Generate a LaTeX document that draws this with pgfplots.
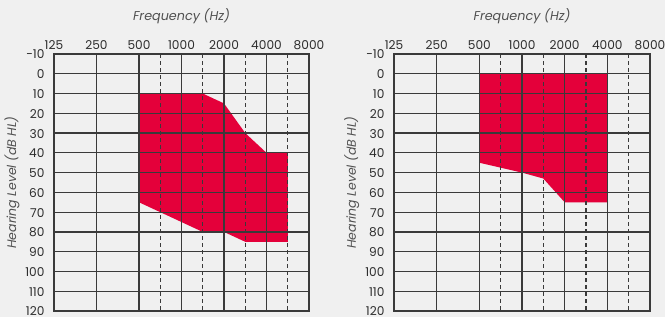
\documentclass[border=0pt]{standalone}
\usepackage{pgfplots}
\pgfplotsset{compat=1.18}
\usepackage{fontspec}
\setmainfont{Poppins}
\definecolor{bg}{RGB}{240,240,240}
\definecolor{gridc}{RGB}{58,58,58}
\definecolor{fillred}{RGB}{228,0,58}
\definecolor{txt}{RGB}{45,45,45}
\definecolor{ttl}{RGB}{80,80,80}
\pgfplotsset{
  audiogram/.style={
    scale only axis,
    width=255bp, height=257bp,
    anchor=south west,
    xmin=0, xmax=6, ymin=-10, ymax=120,
    y dir=reverse,
    axis on top,
    axis background/.style={fill=bg},
    xtick={0,1,2,3,4,5,6},
    xticklabels={125,250,500,1000,2000,4000,8000},
    xticklabel pos=upper,
    ytick={-10,0,10,20,30,40,50,60,70,80,90,100,110,120},
    yticklabels={-10,0,10,20,30,40,50,60,70,80,90,100,110,120},
    ytick pos=left,
    major tick length=0pt,
    grid=major,
    major grid style={draw=gridc, line width=1.25bp},
    axis line style={draw=gridc, line width=1.25bp},
    extra x ticks={2.5,3.5,4.5,5.5},
    extra x tick labels={},
    extra x tick style={grid=major, major grid style={draw=gridc, line width=1.1bp, dash pattern=on 4bp off 3bp}},
    tick label style={font=\fontsize{12.2}{13}\selectfont, text=txt},
    xticklabel style={anchor=base, yshift=5bp},
    yticklabel style={anchor=east, xshift=-6bp, yshift=-0.5bp},
    title={Frequency (Hz)},
    title style={at={(axis description cs:0.5,1)}, anchor=base, yshift=28bp, font=\itshape\fontsize{12.8}{14}\selectfont, text=ttl},
    ylabel={Hearing Level (dB HL)},
    ylabel style={at={(axis description cs:-0.149,0.5)}, anchor=base, font=\itshape\fontsize{12.5}{14}\selectfont, text=ttl},
  }
}
\begin{document}
\begin{tikzpicture}[x=1bp,y=1bp]
\fill[bg] (0,0) rectangle (665,317);
\useasboundingbox (0,0) rectangle (665,317);
\begin{axis}[audiogram, at={(54bp,6bp)}]
\addplot[fill=fillred, draw=none] table {
x y
2 10
3.5 10
4 15
4.5 30
5 40
5.5 40
5.5 85
4.5 85
4 80
3.5 80
2 65
} -- cycle;
\end{axis}
\begin{axis}[audiogram, at={(394bp,6bp)}, width=256bp]
\addplot[fill=fillred, draw=none] table {
x y
2 0
5 0
5 65
4 65
3.5 53
3 50
2 45
} -- cycle;
\end{axis}
\end{tikzpicture}
\end{document}
